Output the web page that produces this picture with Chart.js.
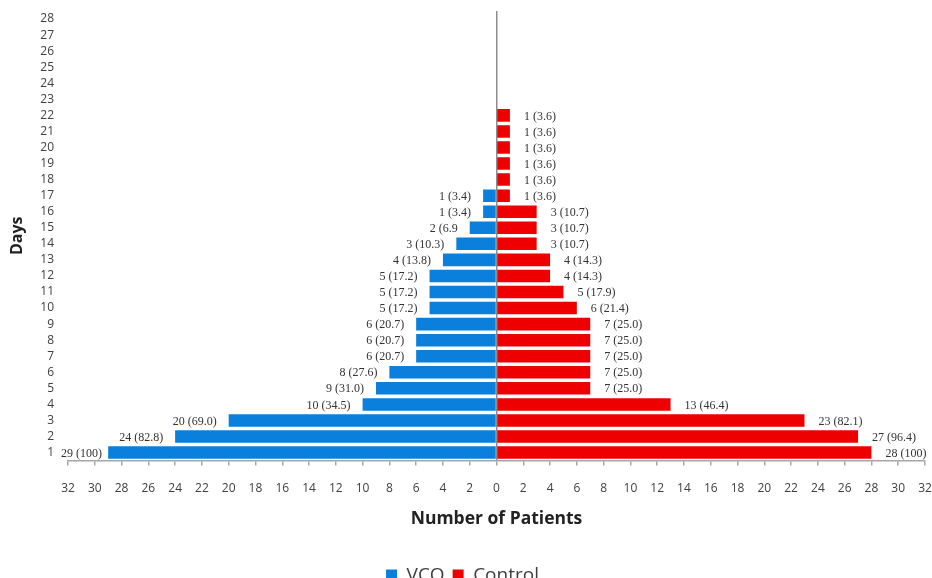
<!DOCTYPE html>
<html>
<head>
<meta charset="utf-8">
<script src="https://cdn.jsdelivr.net/npm/chart.js@4.4.1/dist/chart.umd.min.js"></script>
<style>
  html, body { margin: 0; padding: 0; background: #fff; }
  #wrap { width: 932px; height: 578px; }
</style>
</head>
<body>
<div id="wrap"><canvas id="days-chart"></canvas></div>
<script>
// days 1..28
const days = Array.from({ length: 28 }, (_, i) => String(i + 1));

// number of patients per day (VCO plotted to the left)
const vcoCounts = [29, 24, 20, 10, 9, 8, 6, 6, 6, 5, 5, 5, 4, 3, 2, 1, 1, 0, 0, 0, 0, 0, 0, 0, 0, 0, 0, 0];
const controlCounts = [28, 27, 23, 13, 7, 7, 7, 7, 7, 6, 5, 4, 4, 3, 3, 3, 1, 1, 1, 1, 1, 1, 0, 0, 0, 0, 0, 0];

// labels printed next to the bars: n (%)
const vcoLabels = ['29 (100)', '24 (82.8)', '20 (69.0)', '10 (34.5)', '9 (31.0)', '8 (27.6)', '6 (20.7)', '6 (20.7)', '6 (20.7)',
    '5 (17.2)', '5 (17.2)', '5 (17.2)', '4 (13.8)', '3 (10.3)', '2 (6.9', '1 (3.4)', '1 (3.4)'];
const controlLabels = ['28 (100)', '27 (96.4)', '23 (82.1)', '13 (46.4)', '7 (25.0)', '7 (25.0)', '7 (25.0)', '7 (25.0)', '7 (25.0)',
    '6 (21.4)', '5 (17.9)', '4 (14.3)', '4 (14.3)', '3 (10.7)', '3 (10.7)', '3 (10.7)', '1 (3.6)', '1 (3.6)', '1 (3.6)',
    '1 (3.6)', '1 (3.6)', '1 (3.6)'];

const axisTicks = { min: -32, max: 32, step: 2 };

// writes the n (%) text beside each bar
const barLabels = {
    id: 'barLabels',
    afterDatasetsDraw(chart) {
        const { ctx, chartArea } = chart;
        ctx.save();
        ctx.font = '12px "Liberation Serif", "Times New Roman", serif';
        ctx.fillStyle = '#333';
        ctx.textBaseline = 'middle';
        const left = chart.getDatasetMeta(0).data;
        left.forEach((bar, i) => {
            if (!vcoLabels[i]) return;
            ctx.textAlign = 'right';
            ctx.fillText(vcoLabels[i], Math.max(bar.x - 12, chartArea.left + 34), bar.y + 1);
        });
        const right = chart.getDatasetMeta(1).data;
        right.forEach((bar, i) => {
            if (!controlLabels[i]) return;
            ctx.textAlign = 'left';
            ctx.fillText(controlLabels[i], bar.x + 14, bar.y + 1);
        });
        ctx.restore();
    }
};

const ctx = document.getElementById('days-chart');
new Chart(ctx, {
    type: 'bar',
    data: {
        labels: days,
        datasets: [
            {
                label: 'VCO',
                data: vcoCounts.map(v => -v),
                backgroundColor: '#0a7fdc',
                barPercentage: 0.78,
                categoryPercentage: 1
            },
            {
                label: 'Control',
                data: controlCounts,
                backgroundColor: '#ee0000',
                barPercentage: 0.78,
                categoryPercentage: 1
            }
        ]
    },
    options: {
        indexAxis: 'y',
        responsive: true,
        maintainAspectRatio: false,
        animation: false,
        layout: { padding: { top: 11, right: 7, left: 0, bottom: -17 } },
        scales: {
            x: {
                stacked: true,
                min: axisTicks.min,
                max: axisTicks.max,
                border: { display: true, color: '#a6a6a6', width: 1.5 },
                grid: {
                    color: c => (c.tick && c.tick.value === 0 ? '#8c8c8c' : 'transparent'),
                    lineWidth: 1.5,
                    tickColor: '#a6a6a6',
                    tickLength: 5
                },
                ticks: {
                    stepSize: axisTicks.step,
                    autoSkip: false,
                    maxRotation: 0,
                    padding: 16,
                    color: '#404040',
                    font: { family: 'Open Sans', size: 12 },
                    callback: v => Math.abs(v)
                },
                title: {
                    display: true,
                    text: 'Number of Patients',
                    color: '#222',
                    font: { family: 'Open Sans', size: 17.5, weight: 'bold' },
                    padding: { top: -3, bottom: 28 }
                },
                afterFit: s => { s.paddingLeft = 0; s.paddingRight = 0; }
            },
            y: {
                stacked: true,
                reverse: true,
                border: { display: false },
                grid: { display: false, drawTicks: false },
                ticks: {
                    autoSkip: false,
                    padding: 14,
                    color: '#404040',
                    font: { family: 'Open Sans', size: 12 }
                },
                title: {
                    display: true,
                    text: 'Days',
                    color: '#222',
                    font: { family: 'Open Sans', size: 16, weight: 'bold' },
                    padding: 8
                },
                afterFit: s => { s.width = 68; s.paddingTop = 0; s.paddingBottom = 0; }
            }
        },
        plugins: {
            legend: {
                position: 'bottom',
                labels: {
                    boxWidth: 11,
                    boxHeight: 12,
                    padding: 8,
                    color: '#404040',
                    font: { family: 'Open Sans', size: 19 }
                }
            },
            tooltip: { enabled: false }
        }
    },
    plugins: [barLabels]
});
</script>
</body>
</html>
